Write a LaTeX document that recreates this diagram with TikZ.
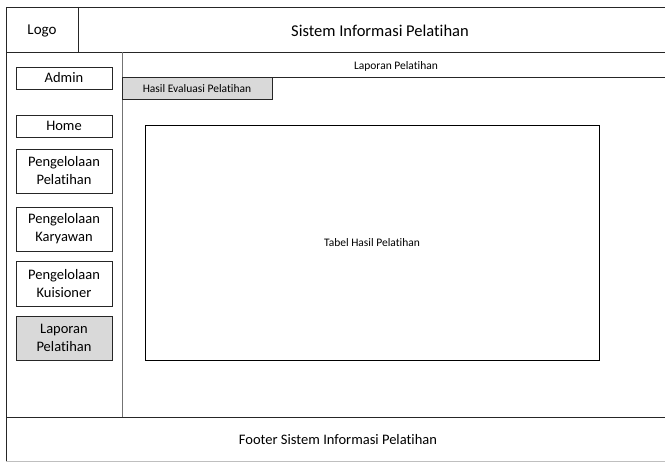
\documentclass[tikz,border=0pt]{standalone}
\usepackage{fontspec}
\setmainfont{Carlito}[Ligatures=NoCommon]
\begin{document}
\begin{tikzpicture}[x=1pt,y=-1pt,
  frame/.style={draw=black!85,line width=0.9pt},
  menubox/.style={draw=black!85,line width=0.8pt,fill=white,align=center,
    inner sep=0pt,font=\fontsize{14.5}{18}\selectfont},
  activebox/.style={menubox,fill=black!15},
  lbl/.style={inner sep=0pt,align=center}]
\useasboundingbox (0,0) rectangle (665,462);
% page frame
\fill[white] (0,0) rectangle (665,462);
\draw[frame] (6,462) -- (6,7) -- (666,7);
\draw[black!25,line width=0.8pt] (6,461.5) -- (666,461.5);
% header
\draw[frame] (6,52) -- (666,52);
\draw[frame] (78,7) -- (78,52);
\node[lbl,font=\fontsize{15}{17}\selectfont] (logo) at (42,31) {Logo};
\node[lbl,font=\fontsize{16.5}{19}\selectfont] (title) at (380,31) {Sistem Informasi Pelatihan};
% sidebar
\draw[black!55,line width=1pt] (122,52) -- (122,417);
\node[menubox,minimum width=96,minimum height=22] (admin) at (64,78) {Admin};
\node[menubox,minimum width=96,minimum height=22] (home) at (64,126) {Home};
\node[menubox,minimum width=96,minimum height=44] (pel) at (64,171) {Pengelolaan\\Pelatihan};
\node[menubox,minimum width=96,minimum height=44] (kar) at (64,229) {Pengelolaan\\Karyawan};
\node[menubox,minimum width=96,minimum height=45] (kui) at (64,283.5) {Pengelolaan\\Kuisioner};
\node[activebox,minimum width=96,minimum height=44] (lap) at (64,338) {Laporan\\Pelatihan};
% content title bar
\draw[frame] (122,77.5) -- (666,77.5);
\node[lbl,font=\fontsize{11.5}{13}\selectfont] (bar) at (396,66.5) {Laporan Pelatihan};
\node[draw=black!85,line width=0.8pt,fill=black!15,minimum width=150,minimum height=22,
  inner sep=0pt,font=\fontsize{11.5}{13}\selectfont] (tab) at (197,88.5) {Hasil Evaluasi Pelatihan};
% table area
\node[draw=black,line width=0.9pt,minimum width=454,minimum height=235,inner sep=0pt,
  font=\fontsize{11.5}{13}\selectfont] (tabel) at (372,242.5) {Tabel Hasil Pelatihan};
% footer
\draw[frame] (6,417) -- (666,417);
\node[lbl,font=\fontsize{14.5}{16}\selectfont] (footer) at (338,440) {Footer Sistem Informasi Pelatihan};
\end{tikzpicture}
\end{document}
